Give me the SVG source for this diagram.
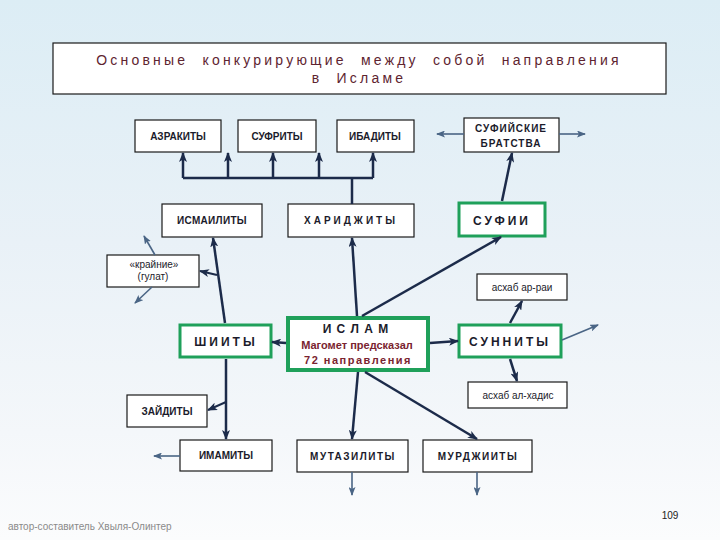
<svg xmlns="http://www.w3.org/2000/svg" width="720" height="540" viewBox="0 0 720 540">
  <defs>
    <linearGradient id="bg" x1="0" y1="0" x2="0" y2="1">
      <stop offset="0" stop-color="#dcedf5"/>
      <stop offset="0.45" stop-color="#e9f1f7"/>
      <stop offset="0.8" stop-color="#f4f7fa"/>
      <stop offset="1" stop-color="#fbfcfd"/>
    </linearGradient>
    <marker id="ah" markerUnits="userSpaceOnUse" markerWidth="10" markerHeight="8" refX="9" refY="4" orient="auto">
      <path d="M0,0 L10,4 L0,8 L2.5,4 Z" fill="#1c2b4a"/>
    </marker>
    <marker id="at" markerUnits="userSpaceOnUse" markerWidth="9" markerHeight="7" refX="8" refY="3.5" orient="auto">
      <path d="M0,0 L9,3.5 L0,7 L2,3.5 Z" fill="#4a6585"/>
    </marker>
    <style>
      .box { fill: #ffffff; stroke: #1a1a1a; stroke-width: 1.2; }
      .gbox { fill: #ffffff; stroke: #1fa05a; stroke-width: 3.5; }
      .lbl { font-family: "Liberation Sans", Arial, sans-serif; font-weight: bold; font-size: 10px; fill: #1b1b2b; text-anchor: middle; }
      .big { font-family: "Liberation Sans", Arial, sans-serif; font-weight: bold; font-size: 12px; fill: #1b1b2b; text-anchor: middle; letter-spacing: 3px; }
      .norm { font-family: "Liberation Sans", Arial, sans-serif; font-size: 10px; fill: #1b1b2b; text-anchor: middle; }
      .mar { font-family: "Liberation Sans", Arial, sans-serif; font-weight: bold; font-size: 11px; fill: #7a2430; text-anchor: middle; }
      .title { font-family: "Liberation Sans", Arial, sans-serif; font-size: 14px; fill: #5e2430; text-anchor: middle; letter-spacing: 3.2px; white-space: pre; }
      .dk { stroke: #1c2b4a; stroke-width: 2.5; fill: none; }
      .th { stroke: #4a6585; stroke-width: 1.6; fill: none; }
    </style>
  </defs>
  <rect x="0" y="0" width="720" height="540" fill="url(#bg)"/>

  <g id="title">
    <rect x="53" y="43" width="613" height="51" class="box"/>
    <text class="title" x="359" y="65" xml:space="preserve">Основные  конкурирующие  между  собой  направления</text>
    <text class="title" x="359" y="83" xml:space="preserve">в  Исламе</text>
  </g>

  <g id="azrakity"><rect class="box" x="135" y="120" width="86" height="32"/><text class="lbl" x="178" y="140">АЗРАКИТЫ</text></g>
  <g id="sufrity"><rect class="box" x="238" y="120" width="78" height="32"/><text class="lbl" x="277" y="140">СУФРИТЫ</text></g>
  <g id="ibadity"><rect class="box" x="337" y="120" width="77" height="32"/><text class="lbl" x="375" y="140">ИБАДИТЫ</text></g>
  <g id="sufiyskie"><rect class="box" x="464" y="118" width="95" height="34"/><text class="lbl" x="511" y="132" style="letter-spacing:1px">СУФИЙСКИЕ</text><text class="lbl" x="511" y="147" style="letter-spacing:1px">БРАТСТВА</text></g>
  <g id="ismaility"><rect class="box" x="162" y="204" width="100" height="33"/><text class="lbl" x="212" y="224" style="letter-spacing:0.3px">ИСМАИЛИТЫ</text></g>
  <g id="haridzhity"><rect class="box" x="288" y="204" width="126" height="33"/><text class="lbl" x="351" y="224" style="letter-spacing:3px">ХАРИДЖИТЫ</text></g>
  <g id="sufii"><rect class="gbox" x="459" y="203" width="86" height="33" style="stroke-width:3"/><text class="big" x="502" y="225">СУФИИ</text></g>
  <g id="krainie"><rect class="box" x="107" y="255" width="92" height="32"/><text class="norm" x="154" y="268">«крайние»</text><text class="norm" x="153" y="280">(гулат)</text></g>
  <g id="ashab-ar-rai"><rect class="box" x="477" y="274" width="90" height="26"/><text class="norm" x="522" y="291">асхаб ар-раи</text></g>
  <g id="shiity"><rect class="gbox" x="180" y="325" width="91" height="32" style="stroke-width:3"/><text class="big" x="226" y="346">ШИИТЫ</text></g>
  <g id="islam">
    <rect class="gbox" x="288" y="318" width="140" height="52" style="stroke-width:4"/>
    <text class="big" x="356" y="333" style="letter-spacing:1px">И С Л А М</text>
    <text class="mar" x="357" y="349">Магомет предсказал</text>
    <text class="mar" x="358" y="364" style="letter-spacing:1.5px">72  направления</text>
  </g>
  <g id="sunnity"><rect class="gbox" x="459" y="325" width="102" height="32" style="stroke-width:3"/><text class="big" x="510" y="346">СУННИТЫ</text></g>
  <g id="ashab-al-hadis"><rect class="box" x="468" y="382" width="99" height="26"/><text class="norm" x="518" y="399">асхаб ал-хадис</text></g>
  <g id="zaidity"><rect class="box" x="127" y="395" width="80" height="32"/><text class="lbl" x="167" y="415">ЗАЙДИТЫ</text></g>
  <g id="imamity"><rect class="box" x="180" y="440" width="92" height="31"/><text class="lbl" x="226" y="459">ИМАМИТЫ</text></g>
  <g id="mutazility"><rect class="box" x="297" y="440" width="111" height="32"/><text class="lbl" x="353" y="460" style="letter-spacing:1.5px">МУТАЗИЛИТЫ</text></g>
  <g id="murdzhiity"><rect class="box" x="423" y="440" width="109" height="32"/><text class="lbl" x="478" y="460" style="letter-spacing:1.5px">МУРДЖИИТЫ</text></g>

  <g id="connectors">
    <path class="dk" d="M183,178 H373"/>
    <path class="dk" d="M352,204 V178"/>
    <path class="dk" d="M183,178 V153" marker-end="url(#ah)"/>
    <path class="dk" d="M228,178 V153" marker-end="url(#ah)"/>
    <path class="dk" d="M273,178 V153" marker-end="url(#ah)"/>
    <path class="dk" d="M319,178 V153" marker-end="url(#ah)"/>
    <path class="dk" d="M373,178 V153" marker-end="url(#ah)"/>
    <path class="dk" d="M357,316 L352,238" marker-end="url(#ah)"/>
    <path class="dk" d="M362,316 L501,237" marker-end="url(#ah)"/>
    <path class="dk" d="M502,201 L512,153" marker-end="url(#ah)"/>
    <path class="dk" d="M286,343 L272,342" marker-end="url(#ah)"/>
    <path class="dk" d="M430,343 L458,341" marker-end="url(#ah)"/>
    <path class="dk" d="M510,323 L522,301" marker-end="url(#ah)"/>
    <path class="dk" d="M510,359 L517,381" marker-end="url(#ah)"/>
    <path class="dk" d="M358,372 L352,439" marker-end="url(#ah)"/>
    <path class="dk" d="M365,372 L477,439" marker-end="url(#ah)"/>
    <path class="dk" d="M225,323 L213,238" marker-end="url(#ah)"/>
    <path class="dk" d="M217,275 L200,271" style="stroke-width:2" marker-end="url(#ah)"/>
    <path class="dk" d="M226,359 V439" marker-end="url(#ah)"/>
    <path class="dk" d="M226,402 L208,410" style="stroke-width:2" marker-end="url(#ah)"/>
    <path class="th" d="M464,134 H437" marker-end="url(#at)"/>
    <path class="th" d="M559,134 H585" marker-end="url(#at)"/>
    <path class="th" d="M562,340 L598,325" marker-end="url(#at)"/>
    <path class="th" d="M155,255 L144,236" marker-end="url(#at)"/>
    <path class="th" d="M152,287 L135,303" marker-end="url(#at)"/>
    <path class="th" d="M180,456 H154" marker-end="url(#at)"/>
    <path class="th" d="M352,472 V495" marker-end="url(#at)"/>
    <path class="th" d="M477,472 V495" marker-end="url(#at)"/>
  </g>

  <text x="8" y="530" style="font-family:'Liberation Sans', Arial, sans-serif; font-size:10px; fill:#8a8a8a">автор-составитель Хвыля-Олинтер</text>
  <text x="670" y="519" style="font-family:'Liberation Sans', Arial, sans-serif; font-size:10px; fill:#222; text-anchor:middle">109</text>
</svg>
